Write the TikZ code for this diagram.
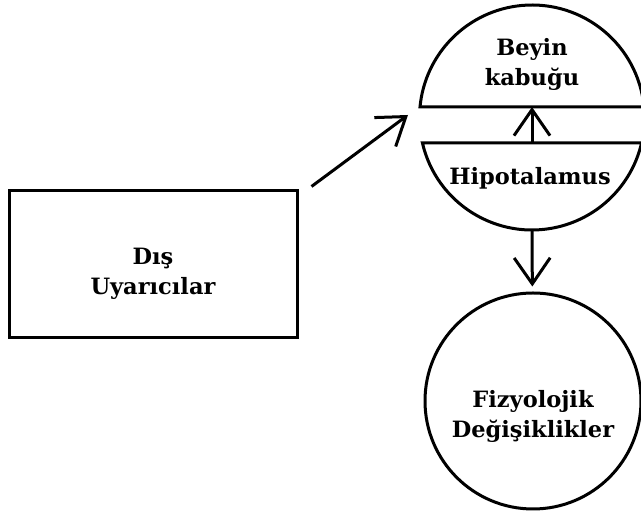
\documentclass[tikz,border=0pt]{standalone}
\usepackage{fontspec}
\setmainfont{DejaVu Serif}
\usetikzlibrary{arrows.meta}
\tikzstyle{graph}=[x=1pt, y=1pt, line width=3pt, font=\fontsize{22.5}{30}\selectfont\bfseries]
\tikzstyle{box}=[rectangle, draw, minimum width=288pt, minimum height=147pt, inner sep=0pt]
\tikzstyle{ring}=[circle, draw, minimum size=216pt, inner sep=0pt]
\tikzstyle{t}=[align=center, inner sep=0pt]
\tikzstyle{edge}=[-{Straight Barb[length=26pt, width=36pt]}]

\begin{document}
\begin{tikzpicture}[graph]
	\useasboundingbox (0,0) rectangle (641,516);
	\draw (153,251.5) node[box, label={[t, yshift=-9pt]center:Dış\\Uyarıcılar}] (dis) {};
	% upper circle, cut in two
	\coordinate (beyin) at (532,398.5);
	\draw (beyin) ++(5.36:112.5) arc[start angle=5.36, end angle=174.64, radius=112.5] -- cycle;
	\draw (beyin) ++(193.1:112.5) arc[start angle=193.1, end angle=346.9, radius=112.5] -- cycle;
	\coordinate (kabuk) at (532,409);
	\coordinate (hipo) at (532,373);
	\coordinate (beyinalt) at (532,286);
	\coordinate (girdi) at (408,401);
	\draw (532,452) node[t] (kabuktext) {Beyin\\kabuğu};
	\draw (530,338) node[t] (hipotext) {Hipotalamus};
	\draw (533,115) node[ring, label={[t, yshift=-15pt]center:Fizyolojik\\Değişiklikler}] (fizyo) {};
	\draw[edge] ([shift={(13,3)}]dis.north east) -- (girdi);
	\draw[edge] (hipo) -- (kabuk);
	\draw[edge, shorten >=5pt] (beyinalt) -- (fizyo);
\end{tikzpicture}
\end{document}
